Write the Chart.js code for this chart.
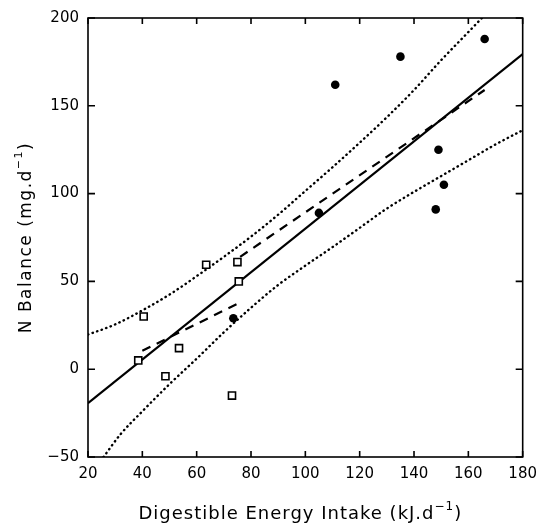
<!DOCTYPE html>
<html>
<head>
<meta charset="utf-8">
<script src="https://cdn.jsdelivr.net/npm/chart.js@4/dist/chart.umd.min.js"></script>
<style>
  html, body { margin: 0; padding: 0; background: #fff; }
  canvas { display: block; }
</style>
</head>
<body>
<canvas id="grafico" width="545" height="524"></canvas>
<script>
/* Balanço de N x energia digestível ingerida. */
const X_TICKS = [20, 40, 60, 80, 100, 120, 140, 160, 180];
const Y_TICKS = [-50, 0, 50, 100, 150, 200];
const Y_TICK_LABELS = ["−50", "0", "50", "100", "150", "200"];

// quadrados abertos
const QUAD_X = [38.5, 40.5, 48.5, 53.5, 63.5, 75, 75.5, 73];
const QUAD_Y = [5, 30, -4, 12, 59.5, 61, 50, -15];
// círculos cheios
const CIRC_X = [73.5, 105, 111, 135, 166, 149, 151, 148];
const CIRC_Y = [29, 89, 162, 178, 188, 125, 105, 91];

// reta ajustada (contínua)
const RETA_X = [20, 180];
const RETA_Y = [-19.4, 179.4];
// retas tracejadas
const TRAC1_X = [40, 76];
const TRAC1_Y = [10.5, 38];
const TRAC2_X = [76, 166];
const TRAC2_Y = [64, 159];

// faixas pontilhadas
const SUP_X = [20, 30, 40, 50, 60, 70, 80, 90, 100, 110, 120, 130, 140, 150, 160, 165];
const SUP_Y = [19.7, 25.5, 33.5, 42.5, 53, 64, 75.5, 88, 101.5, 115, 129, 143.5, 159, 176, 192, 200];
const INF_X = [25.7, 32, 40, 50, 60, 70, 80, 90, 100, 110, 120, 130, 140, 150, 160, 170, 180];
const INF_Y = [-50, -37, -24, -8.5, 6, 21, 35, 48, 59, 69.5, 80.5, 91.5, 101, 110, 119, 128, 136.1];

// títulos: [texto, expoente, fecho]
const TITULO_X = ["Digestible Energy Intake (kJ.d", "−1", ")"];
const TITULO_Y = ["N Balance (mg.d", "−1", ")"];

const pares = (xs, ys) => xs.map((x, i) => ({ x, y: ys[i] }));
const FONTE = "'DejaVu Sans', sans-serif";

// escreve texto + expoente centrado em (0,0), linha de base em y=0
function textoExpoente(ctx, partes, tam, espaco) {
  const [base, exp, fim] = partes;
  ctx.letterSpacing = espaco + "px";
  ctx.textAlign = "left";
  ctx.textBaseline = "alphabetic";
  ctx.font = `${tam}px ${FONTE}`;
  const w1 = ctx.measureText(base).width;
  const w3 = ctx.measureText(fim).width;
  ctx.font = `${Math.round(tam * 0.65)}px ${FONTE}`;
  const w2 = ctx.measureText(exp).width;
  let x = -(w1 + w2 + w3) / 2;
  ctx.font = `${tam}px ${FONTE}`;
  ctx.fillText(base, x, 0);
  x += w1;
  ctx.font = `${Math.round(tam * 0.65)}px ${FONTE}`;
  ctx.fillText(exp, x, -tam * 0.52);
  x += w2;
  ctx.font = `${tam}px ${FONTE}`;
  ctx.fillText(fim, x, 0);
}

const moldura = {
  id: "moldura",
  afterDraw(chart) {
    const { ctx, chartArea: a, scales: { x, y } } = chart;
    ctx.save();
    ctx.strokeStyle = "#000";
    ctx.lineWidth = 1.6;
    ctx.strokeRect(a.left, a.top, a.right - a.left, a.bottom - a.top);
    ctx.beginPath();
    X_TICKS.forEach(v => {
      const px = x.getPixelForValue(v);
      ctx.moveTo(px, a.bottom); ctx.lineTo(px, a.bottom - 6);
      ctx.moveTo(px, a.top); ctx.lineTo(px, a.top + 6);
    });
    Y_TICKS.forEach(v => {
      const py = y.getPixelForValue(v);
      ctx.moveTo(a.left, py); ctx.lineTo(a.left + 7, py);
      ctx.moveTo(a.right, py); ctx.lineTo(a.right - 7, py);
    });
    ctx.stroke();

    // títulos dos eixos
    ctx.fillStyle = "#000";
    ctx.save();
    ctx.translate((a.left + a.right) / 2 - 5, chart.height - 5);
    textoExpoente(ctx, TITULO_X, 18, 1);
    ctx.restore();
    ctx.save();
    ctx.translate(31, (a.top + a.bottom) / 2);
    ctx.rotate(-Math.PI / 2);
    textoExpoente(ctx, TITULO_Y, 17, 1.5);
    ctx.restore();
    ctx.restore();
  },
};

function linha(xs, ys, dash, extra = {}) {
  return Object.assign({
    data: pares(xs, ys),
    showLine: true,
    pointRadius: 0,
    borderColor: "#000",
    borderWidth: 2.2,
    borderDash: dash,
    borderCapStyle: "butt",
    fill: false,
  }, extra);
}

const pontilhado = { cubicInterpolationMode: "monotone", borderWidth: 2.4, borderCapStyle: "round" };

new Chart(document.getElementById("grafico"), {
  type: "scatter",
  data: {
    datasets: [
      {
        data: pares(CIRC_X, CIRC_Y),
        pointStyle: "circle",
        pointRadius: 4.3,
        backgroundColor: "#000",
        borderColor: "#000",
        borderWidth: 0,
      },
      {
        data: pares(QUAD_X, QUAD_Y),
        pointStyle: "rect",
        pointRadius: 5,
        backgroundColor: "#fff",
        borderColor: "#000",
        borderWidth: 1.6,
      },
      linha(RETA_X, RETA_Y, []),
      linha(TRAC1_X, TRAC1_Y, [9, 7]),
      linha(TRAC2_X, TRAC2_Y, [9, 7]),
      linha(SUP_X, SUP_Y, [0.4, 4.4], pontilhado),
      linha(INF_X, INF_Y, [0.4, 4.4], pontilhado),
    ],
  },
  options: {
    responsive: false,
    animation: false,
    devicePixelRatio: 1,
    layout: { padding: { left: 0, right: 16, top: 15, bottom: 0 } },
    plugins: { legend: { display: false }, tooltip: { enabled: false } },
    scales: {
      x: {
        type: "linear",
        min: 20,
        max: 180,
        afterFit: s => { s.height = 67; },
        afterBuildTicks: s => { s.ticks = X_TICKS.map(v => ({ value: v })); },
        grid: { display: false, drawTicks: false },
        border: { display: false },
        ticks: { color: "#000", font: { family: FONTE, size: 15 }, padding: 8, maxRotation: 0 },
      },
      y: {
        type: "linear",
        min: -50,
        max: 200,
        afterFit: s => { s.width = 88; },
        afterBuildTicks: s => { s.ticks = Y_TICKS.map(v => ({ value: v })); },
        grid: { display: false, drawTicks: false },
        border: { display: false },
        ticks: {
          color: "#000",
          font: { family: FONTE, size: 15 },
          padding: 9,
          callback: (v) => Y_TICK_LABELS[Y_TICKS.indexOf(v)],
        },
      },
    },
  },
  plugins: [moldura],
});
</script>
</body>
</html>
